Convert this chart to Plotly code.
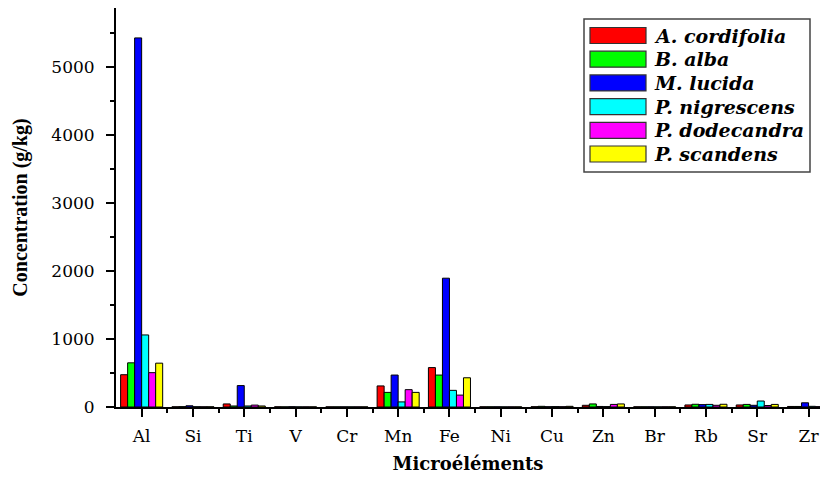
import plotly.graph_objects as go

elements = ["Al", "Si", "Ti", "V", "Cr", "Mn", "Fe", "Ni", "Cu", "Zn", "Br", "Rb", "Sr", "Zr"]
species = ["A. cordifolia", "B. alba", "M. lucida", "P. nigrescens", "P. dodecandra", "P. scandens"]
colors = ["#ff0000", "#00ff00", "#0000ff", "#00ffff", "#ff00ff", "#ffff00"]

a_cordifolia = [475, 3, 45, 3, 2, 310, 580, 3, 4, 25, 3, 30, 30, 8]
b_alba = [650, 5, 15, 2, 2, 215, 470, 3, 10, 45, 3, 40, 38, 8]
m_lucida = [5430, 18, 315, 4, 2, 470, 1895, 3, 4, 8, 3, 35, 25, 62]
p_nigrescens = [1060, 4, 15, 2, 2, 75, 245, 2, 6, 6, 2, 38, 88, 10]
p_dodecandra = [505, 3, 28, 2, 2, 255, 175, 2, 4, 38, 3, 25, 22, 5]
p_scandens = [645, 3, 15, 2, 2, 215, 430, 2, 10, 45, 3, 40, 38, 6]

series = [a_cordifolia, b_alba, m_lucida, p_nigrescens, p_dodecandra, p_scandens]
xpos = list(range(len(elements)))

fig = go.Figure()
for name, vals, col in zip(species, series, colors):
    fig.add_trace(go.Bar(x=xpos, y=vals, name=name, marker_color=col,
                         marker_line=dict(color="black", width=1), showlegend=False))

# plot area in window pixels: left 116, right 820, top 8, bottom 407
W, H = 820, 477
L, T, B = 116, 8, 477 - 407
pw, ph = W - L, H - T - B

def px(x):
    return (x - L) / pw

def py(y):
    return (H - B - y) / ph

# hand-drawn legend box like the original
fig.add_shape(type="rect", xref="paper", yref="paper",
              x0=px(584), x1=px(810), y0=py(172), y1=py(19),
              line=dict(color="#444444", width=1.5), fillcolor="white")
for i, (name, col) in enumerate(zip(species, colors)):
    cy = 35.5 + i * 23.7
    fig.add_shape(type="rect", xref="paper", yref="paper",
                  x0=px(590), x1=px(646), y0=py(cy + 8), y1=py(cy - 8),
                  line=dict(color="#333333", width=1.2), fillcolor=col)
    fig.add_annotation(xref="paper", yref="paper", x=px(652), y=py(cy),
                       text="<b><i>" + name + "</i></b>", showarrow=False,
                       xanchor="left", yanchor="middle",
                       font=dict(family="DejaVu Serif", size=19, color="black"))

axis_font = dict(family="DejaVu Serif", size=17, color="black")

fig.update_layout(
    width=W, height=H,
    margin=dict(l=L, r=0, t=T, b=B, autoexpand=False),
    plot_bgcolor="white", paper_bgcolor="white",
    barmode="group", bargap=0.18, bargroupgap=0,
    xaxis=dict(
        range=[-0.5, pw / 51.3 - 0.5],
        automargin=False,
        tickmode="array", tickvals=xpos, ticktext=elements,
        ticks="outside", ticklen=8, tickwidth=2, tickcolor="black",
        minor=dict(tickmode="array", tickvals=[x + 0.5 for x in xpos],
                   ticks="outside", ticklen=4, tickwidth=2, tickcolor="black"),
        showline=True, linecolor="black", linewidth=2,
        showgrid=False, zeroline=False, tickfont=axis_font,
        ticklabelstandoff=5, ticklabeloverflow="allow",
        title=dict(text="<b>Microéléments</b>", standoff=12,
                   font=dict(family="DejaVu Serif", size=18, color="black")),
    ),
    yaxis=dict(
        range=[0, 5870],
        automargin=False,
        tickmode="linear", tick0=0, dtick=1000,
        ticks="outside", ticklen=8, tickwidth=2, tickcolor="black",
        minor=dict(dtick=500, ticks="outside", ticklen=4, tickwidth=2, tickcolor="black"),
        showline=True, linecolor="black", linewidth=2,
        showgrid=False, zeroline=False, tickfont=axis_font,
        ticklabelstandoff=8,
        title=dict(text="<b>Concentration (g/kg)</b>", standoff=18,
                   font=dict(family="Liberation Serif", size=20, color="black")),
    ),
)

# drop the default 8px page margin so the figure fills the window exactly
fig.write_html("out.html", config={"displayModeBar": False},
               post_script="document.body.style.margin = '0';")
